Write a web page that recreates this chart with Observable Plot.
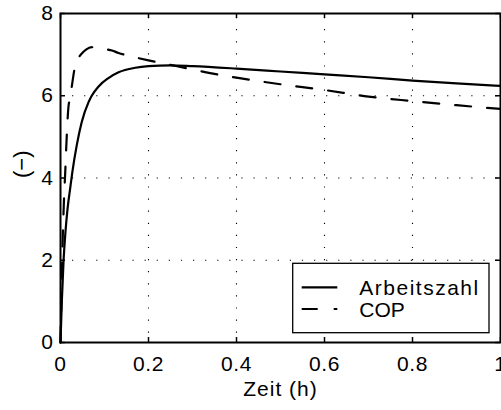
<!DOCTYPE html>
<html>
<head>
<meta charset="utf-8">
<script src="https://cdn.jsdelivr.net/npm/d3@7"></script>
<script src="https://cdn.jsdelivr.net/npm/@observablehq/plot@0.6"></script>
<style>
  html, body { margin: 0; padding: 0; background: #fff; }
</style>
</head>
<body>
<div id="chart"></div>
<script>
// Arbeitszahl (solid)
const tArbeit = [0, 0.003, 0.007, 0.011, 0.016, 0.022, 0.027, 0.037, 0.048, 0.064, 0.071, 0.086, 0.109, 0.132, 0.17, 0.2, 0.25, 0.3, 0.4, 0.5, 0.6, 0.7, 0.8, 0.9, 1.0];
const vArbeit = [0, 1.0, 2.0, 2.65, 3.25, 3.75, 4.15, 4.8, 5.35, 5.85, 6.0, 6.22, 6.43, 6.57, 6.68, 6.72, 6.74, 6.72, 6.66, 6.59, 6.52, 6.45, 6.37, 6.3, 6.24];
// COP (dashed)
const tCop = [0, 0.003, 0.005, 0.0075, 0.011, 0.0135, 0.018, 0.022, 0.026, 0.032, 0.04, 0.048, 0.058, 0.071, 0.085, 0.1, 0.117, 0.132, 0.16, 0.2, 0.25, 0.3, 0.34, 0.4, 0.5, 0.6, 0.7, 0.8, 0.9, 1.0];
const vCop = [0, 1.5, 2.5, 3.35, 4.2, 4.85, 5.72, 5.95, 6.25, 6.66, 6.9, 7.02, 7.12, 7.18, 7.17, 7.14, 7.1, 7.04, 6.96, 6.86, 6.75, 6.64, 6.55, 6.44, 6.28, 6.14, 5.98, 5.87, 5.77, 5.68];

const xTicks = [0, 0.2, 0.4, 0.6, 0.8, 1];
const yTicks = [0, 2, 4, 6, 8];
const xGrid = [0.2, 0.4, 0.6, 0.8];
const yGrid = [2, 4, 6];
const xLabel = "Zeit (h)";
const yLabel = "(\u2212)";
const seriesNames = ["Arbeitszahl", "COP"];

const arbeit = tArbeit.map((t, i) => ({t, v: vArbeit[i]}));
const cop = tCop.map((t, i) => ({t, v: vCop[i]}));

const W = 501, H = 410, mL = 60, mR = 1, mT = 13, mB = 68;
const innerW = W - mL - mR, innerH = H - mT - mB;
const tickLen = 5;
const FONT = "'Liberation Sans', Arial, Helvetica, sans-serif";

const chart = Plot.plot({
  width: W, height: H,
  marginLeft: mL, marginRight: mR, marginTop: mT, marginBottom: mB,
  style: {fontFamily: FONT, fontSize: "21px", color: "black", background: "white", overflow: "visible"},
  x: {domain: [0, 1], label: null},
  y: {domain: [0, 8], label: null},
  marks: [
    Plot.ruleX(xGrid, {x: d => d, stroke: "black", strokeWidth: 1.1, strokeDasharray: "1.2,10.9", strokeDashoffset: -4}),
    Plot.ruleY(yGrid, {y: d => d, stroke: "black", strokeWidth: 1.1, strokeDasharray: "1.2,10.9", strokeDashoffset: -12}),
    Plot.line(arbeit, {x: "t", y: "v", stroke: "black", strokeWidth: 2.2, curve: "monotone-x"}),
    Plot.line(cop, {x: "t", y: "v", stroke: "black", strokeWidth: 2.2, strokeDasharray: "16,16", curve: "monotone-x"}),
    Plot.ruleX(xTicks, {x: d => d, insetTop: innerH - tickLen, stroke: "black", strokeWidth: 1.5}),
    Plot.ruleX(xTicks, {x: d => d, insetBottom: innerH - tickLen, stroke: "black", strokeWidth: 1.5}),
    Plot.ruleY(yTicks, {y: d => d, insetRight: innerW - tickLen, stroke: "black", strokeWidth: 1.5}),
    Plot.ruleY(yTicks, {y: d => d, insetLeft: innerW - tickLen, stroke: "black", strokeWidth: 1.5}),
    Plot.frame({stroke: "black", strokeWidth: 2}),
    Plot.axisX({ticks: xTicks, tickSize: 0, tickPadding: 14, label: null, fontSize: 21, tickFormat: d3.format("")}),
    Plot.axisY({ticks: yTicks, tickSize: 0, tickPadding: 7, label: null, fontSize: 21}),
    Plot.text([xLabel], {text: d => d, frameAnchor: "bottom", dy: 53, fontSize: 21, fill: "black"}),
    Plot.text([yLabel], {text: d => d, frameAnchor: "left", dx: -39, rotate: -90, fontSize: 22, fill: "black"})
  ]
});

const svg = d3.select(chart);
// slightly wider letter spacing like the reference rendering
svg.selectAll("g[aria-label='x-axis tick label'] text, g[aria-label='y-axis tick label'] text").attr("letter-spacing", 0.6);
svg.selectAll("g[aria-label='text'] text").filter(function() { return this.textContent === xLabel; }).attr("letter-spacing", 1);

// Legend (pixel-positioned box in the lower right)
const lg = svg.append("g").attr("font-family", FONT).attr("font-size", 21).attr("text-anchor", "start");
lg.append("rect").attr("x", 292.7).attr("y", 263.3).attr("width", 196.3).attr("height", 69.4)
  .attr("fill", "white").attr("stroke", "black").attr("stroke-width", 1.3);
const rows = [{name: seriesNames[0], dash: null, y: 287.3, base: 294.5, ls: 1.5},
              {name: seriesNames[1], dash: "16,16", y: 309, base: 316.5, ls: 0}];
rows.forEach(r => {
  const l = lg.append("line").attr("x1", 301.7).attr("x2", 337.3).attr("y1", r.y).attr("y2", r.y)
    .attr("stroke", "black").attr("stroke-width", 2.2);
  if (r.dash) l.attr("stroke-dasharray", r.dash);
  lg.append("text").attr("x", 359.3).attr("y", r.base).attr("fill", "black")
    .attr("letter-spacing", r.ls).text(r.name);
});

document.getElementById("chart").appendChild(chart);
</script>
</body>
</html>
